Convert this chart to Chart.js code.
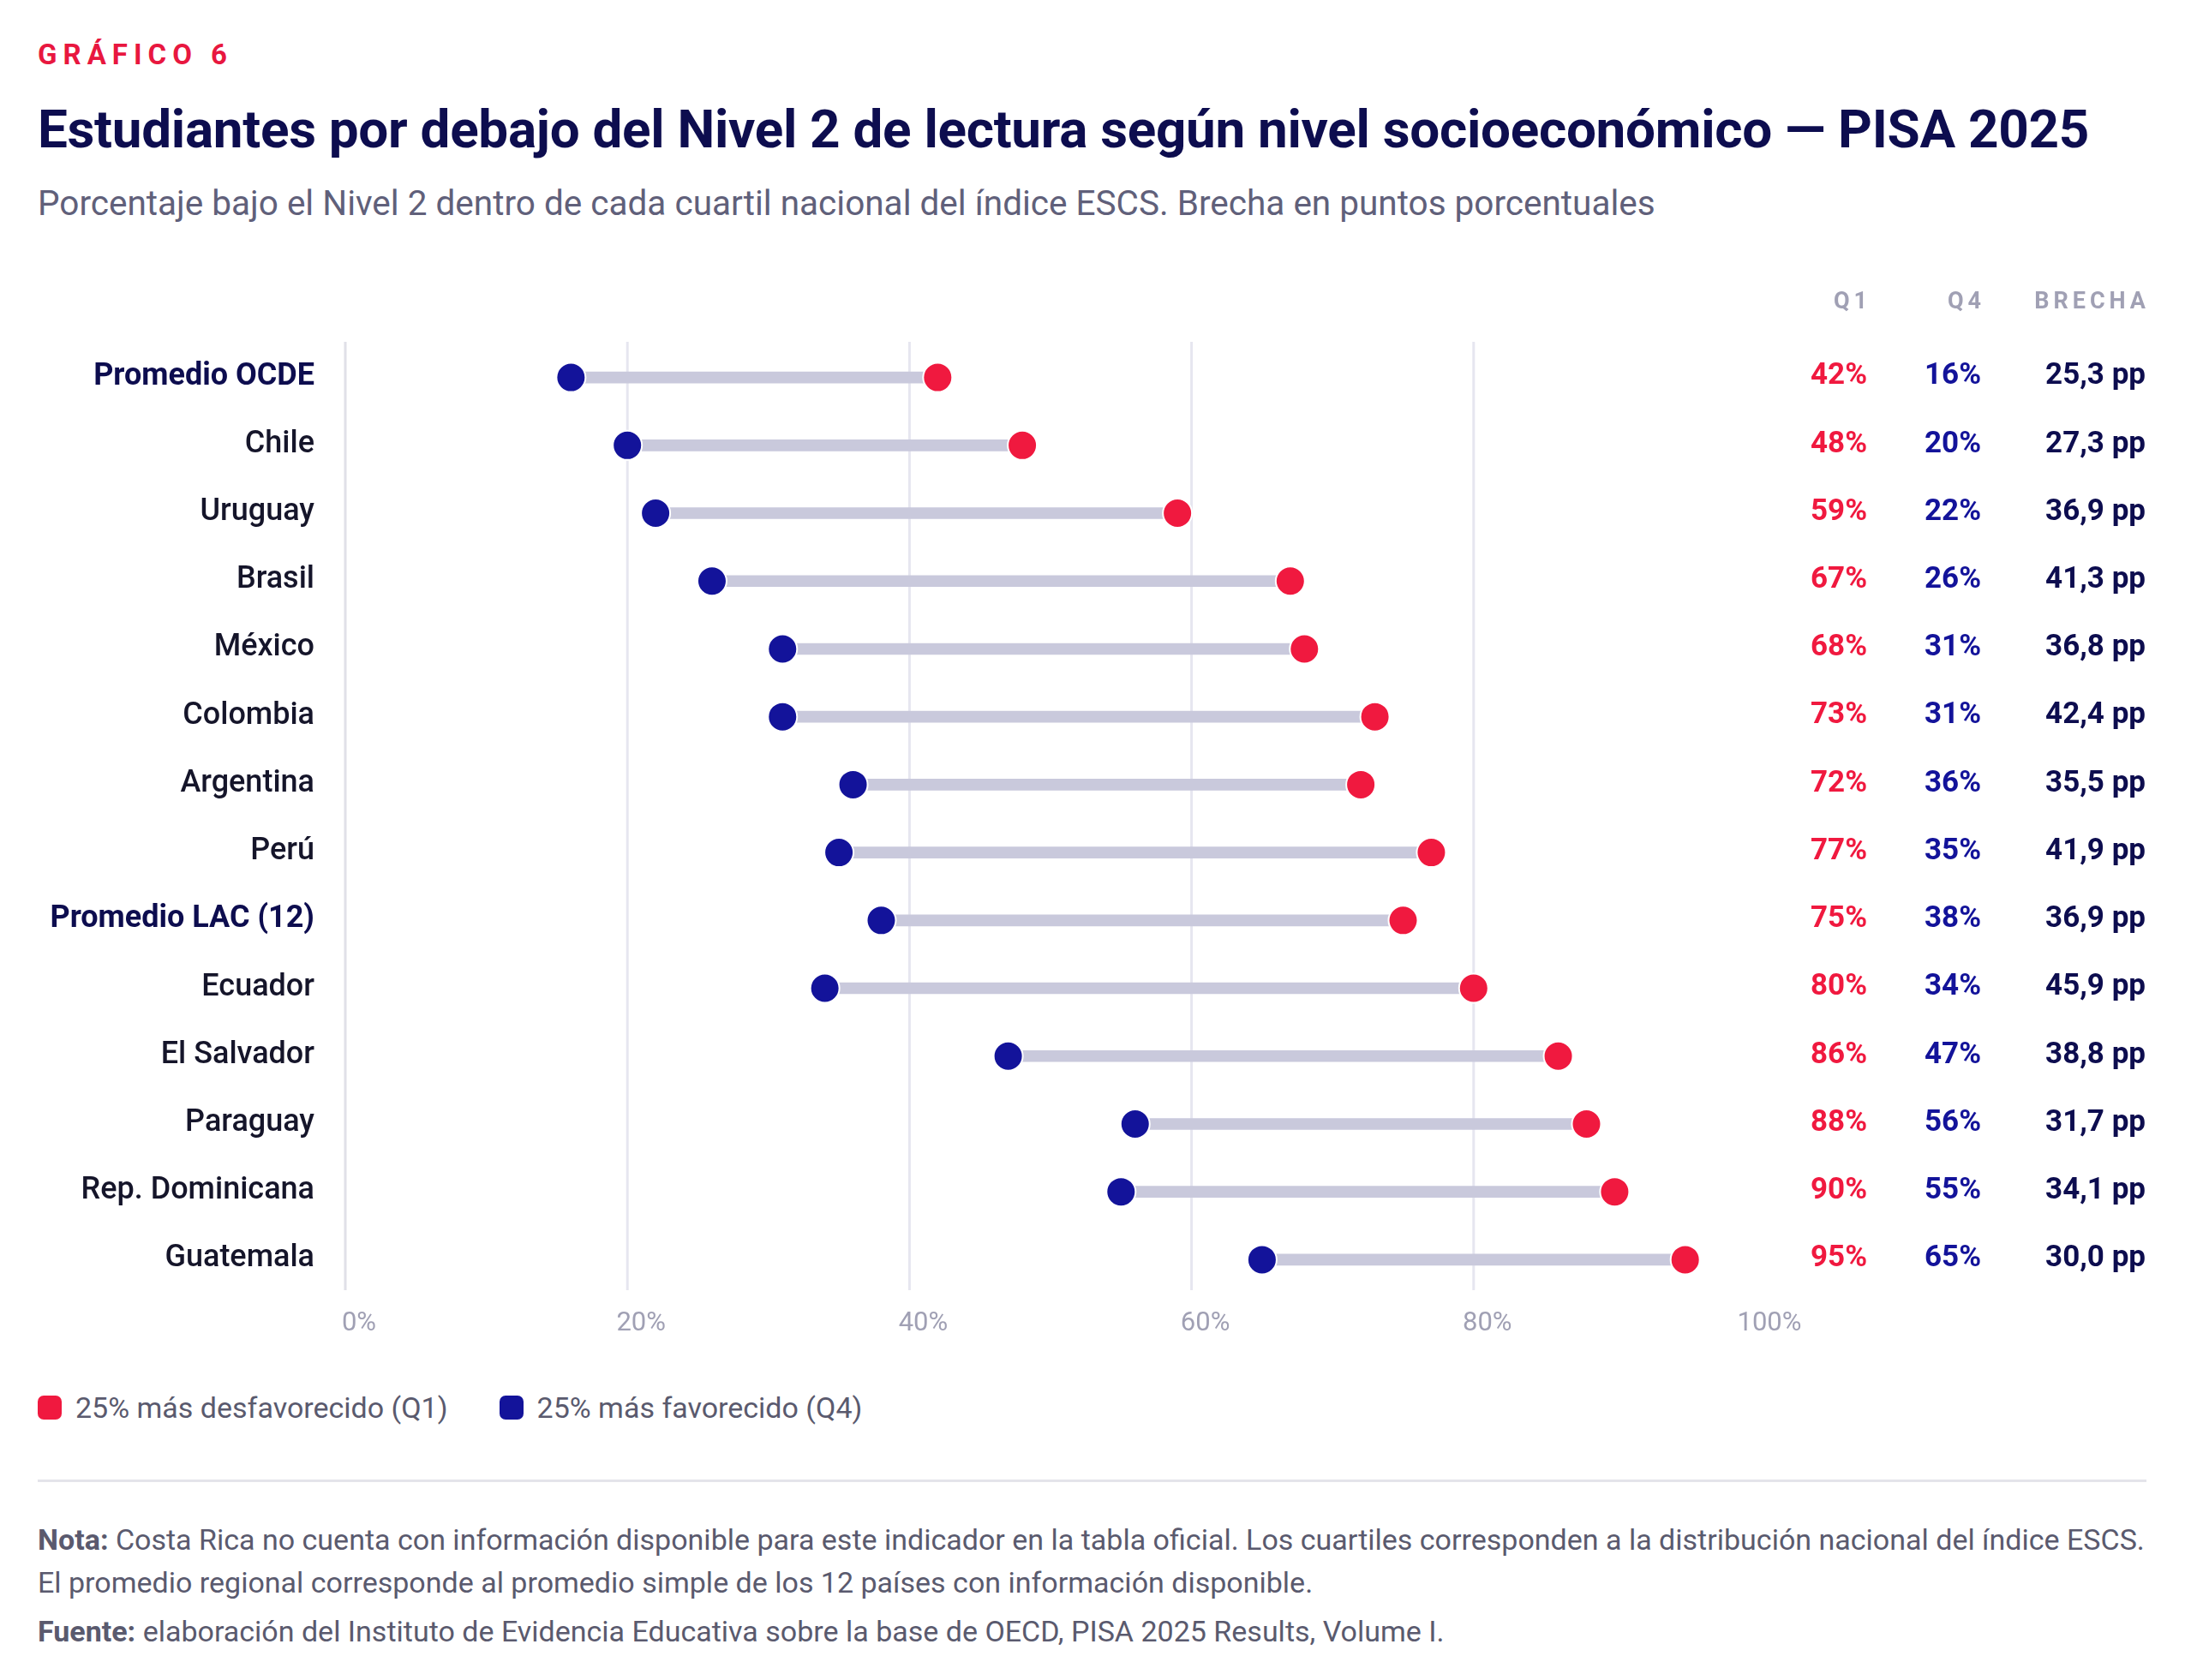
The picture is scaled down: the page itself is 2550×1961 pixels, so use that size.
<!DOCTYPE html>
<html><head><meta charset="utf-8">
<script src="https://cdn.jsdelivr.net/npm/chart.js@4"></script>
<style>
body{margin:0;width:2550px;height:1961px;background:#fff;font-family:Roboto,"Noto Sans",sans-serif;position:relative;overflow:hidden}
.t{position:absolute;white-space:nowrap}
#c{position:absolute;left:0;top:0}
</style></head><body>
<div class="t" style="left:44px;top:44px;font-size:33px;font-weight:700;letter-spacing:7px;color:#e8173f">GRÁFICO 6</div>
<div class="t" style="left:44px;top:114px;font-size:62px;font-weight:700;color:#0d0d4f;letter-spacing:-0.3px">Estudiantes por debajo del Nivel 2 de lectura según nivel socioeconómico — PISA 2025</div>
<div class="t" style="left:44px;top:213px;font-size:40.5px;color:#60607a">Porcentaje bajo el Nivel 2 dentro de cada cuartil nacional del índice ESCS. Brecha en puntos porcentuales</div>
<div class="t" style="left:44px;top:1623px;font-size:34px;color:#5a5a6e;display:flex;align-items:center">
<span style="display:inline-block;width:28px;height:28px;border-radius:7px;background:#f0193f;margin-right:16px"></span>25% más desfavorecido (Q1)
<span style="display:inline-block;width:28px;height:28px;border-radius:7px;background:#13139a;margin:0 16px 0 60px"></span>25% más favorecido (Q4)</div>
<div style="position:absolute;left:44px;top:1727px;width:2461px;height:3px;background:#e4e4ea"></div>
<div class="t" style="left:44px;top:1772px;font-size:34px;line-height:50px;color:#5a5a6e"><b>Nota:</b> Costa Rica no cuenta con información disponible para este indicador en la tabla oficial. Los cuartiles corresponden a la distribución nacional del índice ESCS.<br>El promedio regional corresponde al promedio simple de los 12 países con información disponible.</div>
<div class="t" style="left:44px;top:1884px;font-size:34px;color:#5a5a6e"><b>Fuente:</b> elaboración del Instituto de Evidencia Educativa sobre la base de OECD, PISA 2025 Results, Volume I.</div>
<canvas id="c" width="2550" height="1961"></canvas>
<script>
const categories=["Promedio OCDE","Chile","Uruguay","Brasil","México","Colombia","Argentina","Perú","Promedio LAC (12)","Ecuador","El Salvador","Paraguay","Rep. Dominicana","Guatemala"];
const q1=[42,48,59,67,68,73,72,77,75,80,86,88,90,95];
const q4=[16,20,22,26,31,31,36,35,38,34,47,56,55,65];
const brecha=["25,3","27,3","36,9","41,3","36,8","42,4","35,5","41,9","36,9","45,9","38,8","31,7","34,1","30,0"];
const xTicks=[0,20,40,60,80,100];
const boldRows=["Promedio OCDE","Promedio LAC (12)"];
const RED="#f0193f",BLUE="#13139a",NAVY="#0d0d4f";
const F="Roboto, 'Noto Sans', sans-serif";
const deco={id:'deco',
 beforeDatasetsDraw(ch){const c=ch.ctx,x=ch.scales.x,a=ch.chartArea;c.save();
  xTicks.forEach(v=>{if(v===100)return;const px=x.getPixelForValue(v);c.strokeStyle=v===0?"#e0e0e8":"#e6e6f0";c.lineWidth=3;c.beginPath();c.moveTo(px,a.top-2);c.lineTo(px,a.bottom-4);c.stroke();});
  c.restore();},
 afterDraw(ch){const c=ch.ctx,x=ch.scales.x,y=ch.scales.y;c.save();c.textBaseline="middle";
  xTicks.forEach(v=>{c.font="31px "+F;c.fillStyle="#a0a0b4";c.textAlign="center";c.fillText(v+"%",x.getPixelForValue(v)+16,1545);});
  c.font="700 27px "+F;c.fillStyle="#a0a0b4";c.textAlign="right";c.letterSpacing="5px";
  c.fillText("Q1",2184,353);c.fillText("Q4",2317,353);c.fillText("BRECHA",2509,353);c.letterSpacing="0px";
  categories.forEach((cat,i)=>{const py=y.getPixelForValue(i)-1;const b=boldRows.includes(cat);
   c.textAlign="right";c.font=(b?"700 ":"500 ")+"36px "+F;c.fillStyle=b?NAVY:"#15152a";c.fillText(cat,367,py);
   c.font="700 35px "+F;c.fillStyle=RED;c.fillText(q1[i]+"%",2179,py);
   c.fillStyle=BLUE;c.fillText(q4[i]+"%",2312,py);
   c.fillStyle=NAVY;c.fillText(brecha[i]+" pp",2504,py);});
  c.restore();}};
new Chart(document.getElementById('c'),{
 type:'bar',
 data:{labels:categories,datasets:[
  {type:'line',data:q1,showLine:false,pointRadius:17,pointHoverRadius:17,pointBackgroundColor:RED,pointBorderColor:"#fff",pointBorderWidth:2,order:0},
  {type:'line',data:q4,showLine:false,pointRadius:17,pointHoverRadius:17,pointBackgroundColor:BLUE,pointBorderColor:"#fff",pointBorderWidth:2,order:1},
  {data:q1.map((v,i)=>[q4[i],v]),backgroundColor:"#c9c9dc",barThickness:13,order:2}
 ]},
 options:{indexAxis:'y',responsive:false,animation:false,devicePixelRatio:1,
  layout:{padding:{left:403,right:501,top:401,bottom:451}},
  plugins:{legend:{display:false},tooltip:{enabled:false}},
  scales:{x:{type:'linear',min:0,max:100,display:false},y:{type:'category',display:false,offset:true}}},
 plugins:[deco]});
</script></body></html>
